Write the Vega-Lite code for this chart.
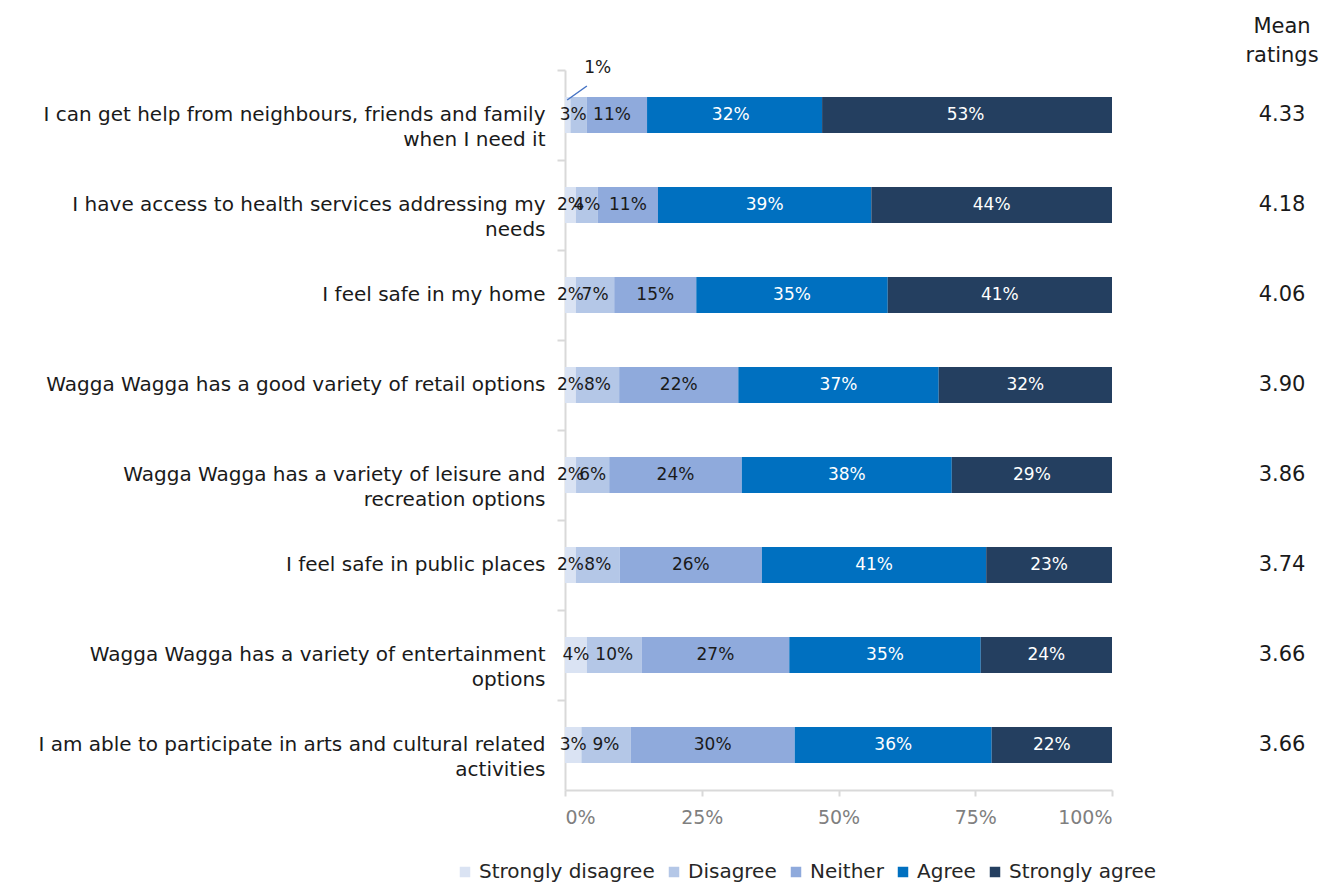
{
  "$schema": "https://vega.github.io/schema/vega-lite/v6.json",
  "padding": {"left": 5, "top": 16, "right": 5, "bottom": 5},
  "background": "white",
  "bounds": "flush",
  "spacing": 110,
  "config": {
    "font": "DejaVu Sans",
    "view": {"stroke": null},
    "text": {"font": "DejaVu Sans"}
  },
  "datasets": {
    "bars": [
      {"statement": "I can get help from neighbours, friends and family\nwhen I need it", "response": "Strongly disagree", "rank": 1, "pct": 0.01, "callout": true},
      {"statement": "I can get help from neighbours, friends and family\nwhen I need it", "response": "Disagree", "rank": 2, "pct": 0.03, "callout": false},
      {"statement": "I can get help from neighbours, friends and family\nwhen I need it", "response": "Neither", "rank": 3, "pct": 0.11, "callout": false},
      {"statement": "I can get help from neighbours, friends and family\nwhen I need it", "response": "Agree", "rank": 4, "pct": 0.32, "callout": false},
      {"statement": "I can get help from neighbours, friends and family\nwhen I need it", "response": "Strongly agree", "rank": 5, "pct": 0.53, "callout": false},
      {"statement": "I have access to health services addressing my\nneeds", "response": "Strongly disagree", "rank": 1, "pct": 0.02, "callout": false},
      {"statement": "I have access to health services addressing my\nneeds", "response": "Disagree", "rank": 2, "pct": 0.04, "callout": false},
      {"statement": "I have access to health services addressing my\nneeds", "response": "Neither", "rank": 3, "pct": 0.11, "callout": false},
      {"statement": "I have access to health services addressing my\nneeds", "response": "Agree", "rank": 4, "pct": 0.39, "callout": false},
      {"statement": "I have access to health services addressing my\nneeds", "response": "Strongly agree", "rank": 5, "pct": 0.44, "callout": false},
      {"statement": "I feel safe in my home", "response": "Strongly disagree", "rank": 1, "pct": 0.02, "callout": false},
      {"statement": "I feel safe in my home", "response": "Disagree", "rank": 2, "pct": 0.07, "callout": false},
      {"statement": "I feel safe in my home", "response": "Neither", "rank": 3, "pct": 0.15, "callout": false},
      {"statement": "I feel safe in my home", "response": "Agree", "rank": 4, "pct": 0.35, "callout": false},
      {"statement": "I feel safe in my home", "response": "Strongly agree", "rank": 5, "pct": 0.41, "callout": false},
      {"statement": "Wagga Wagga has a good variety of retail options", "response": "Strongly disagree", "rank": 1, "pct": 0.02, "callout": false},
      {"statement": "Wagga Wagga has a good variety of retail options", "response": "Disagree", "rank": 2, "pct": 0.08, "callout": false},
      {"statement": "Wagga Wagga has a good variety of retail options", "response": "Neither", "rank": 3, "pct": 0.22, "callout": false},
      {"statement": "Wagga Wagga has a good variety of retail options", "response": "Agree", "rank": 4, "pct": 0.37, "callout": false},
      {"statement": "Wagga Wagga has a good variety of retail options", "response": "Strongly agree", "rank": 5, "pct": 0.32, "callout": false},
      {"statement": "Wagga Wagga has a variety of leisure and\nrecreation options", "response": "Strongly disagree", "rank": 1, "pct": 0.02, "callout": false},
      {"statement": "Wagga Wagga has a variety of leisure and\nrecreation options", "response": "Disagree", "rank": 2, "pct": 0.06, "callout": false},
      {"statement": "Wagga Wagga has a variety of leisure and\nrecreation options", "response": "Neither", "rank": 3, "pct": 0.24, "callout": false},
      {"statement": "Wagga Wagga has a variety of leisure and\nrecreation options", "response": "Agree", "rank": 4, "pct": 0.38, "callout": false},
      {"statement": "Wagga Wagga has a variety of leisure and\nrecreation options", "response": "Strongly agree", "rank": 5, "pct": 0.29, "callout": false},
      {"statement": "I feel safe in public places", "response": "Strongly disagree", "rank": 1, "pct": 0.02, "callout": false},
      {"statement": "I feel safe in public places", "response": "Disagree", "rank": 2, "pct": 0.08, "callout": false},
      {"statement": "I feel safe in public places", "response": "Neither", "rank": 3, "pct": 0.26, "callout": false},
      {"statement": "I feel safe in public places", "response": "Agree", "rank": 4, "pct": 0.41, "callout": false},
      {"statement": "I feel safe in public places", "response": "Strongly agree", "rank": 5, "pct": 0.23, "callout": false},
      {"statement": "Wagga Wagga has a variety of entertainment\noptions", "response": "Strongly disagree", "rank": 1, "pct": 0.04, "callout": false},
      {"statement": "Wagga Wagga has a variety of entertainment\noptions", "response": "Disagree", "rank": 2, "pct": 0.10, "callout": false},
      {"statement": "Wagga Wagga has a variety of entertainment\noptions", "response": "Neither", "rank": 3, "pct": 0.27, "callout": false},
      {"statement": "Wagga Wagga has a variety of entertainment\noptions", "response": "Agree", "rank": 4, "pct": 0.35, "callout": false},
      {"statement": "Wagga Wagga has a variety of entertainment\noptions", "response": "Strongly agree", "rank": 5, "pct": 0.24, "callout": false},
      {"statement": "I am able to participate in arts and cultural related\nactivities", "response": "Strongly disagree", "rank": 1, "pct": 0.03, "callout": false},
      {"statement": "I am able to participate in arts and cultural related\nactivities", "response": "Disagree", "rank": 2, "pct": 0.09, "callout": false},
      {"statement": "I am able to participate in arts and cultural related\nactivities", "response": "Neither", "rank": 3, "pct": 0.30, "callout": false},
      {"statement": "I am able to participate in arts and cultural related\nactivities", "response": "Agree", "rank": 4, "pct": 0.36, "callout": false},
      {"statement": "I am able to participate in arts and cultural related\nactivities", "response": "Strongly agree", "rank": 5, "pct": 0.22, "callout": false}
    ],
    "means": [
      {"statement": "I can get help from neighbours, friends and family\nwhen I need it", "mean": 4.33},
      {"statement": "I have access to health services addressing my\nneeds", "mean": 4.18},
      {"statement": "I feel safe in my home", "mean": 4.06},
      {"statement": "Wagga Wagga has a good variety of retail options", "mean": 3.90},
      {"statement": "Wagga Wagga has a variety of leisure and\nrecreation options", "mean": 3.86},
      {"statement": "I feel safe in public places", "mean": 3.74},
      {"statement": "Wagga Wagga has a variety of entertainment\noptions", "mean": 3.66},
      {"statement": "I am able to participate in arts and cultural related\nactivities", "mean": 3.66}
    ]
  },
  "hconcat": [
    {
      "width": 547,
      "height": 720,
      "data": {"name": "bars"},
      "resolve": {"axis": {"y": "independent"}},
      "layer": [
        {
          "mark": {"type": "bar"},
          "encoding": {
            "y": {
              "field": "statement", "type": "nominal",
              "sort": null,
              "scale": {"paddingInner": 0.6, "paddingOuter": 0.3},
              "axis": {
                "title": null, "domain": false, "ticks": false,
                "labelPadding": 20, "labelLimit": 700,
                "labelFontSize": 20, "labelColor": "#1a1a1a",
                "labelLineHeight": 25,
                "labelExpr": "split(datum.label, '\\n')",
                "minExtent": 560, "maxExtent": 560
              }
            },
            "x": {
              "field": "pct", "type": "quantitative", "stack": "normalize",
              "scale": {"domain": [0, 1]},
              "axis": {
                "title": null, "values": [0, 0.25, 0.5, 0.75, 1], "format": ".0%",
                "grid": false, "domainColor": "#d9d9d9", "tickColor": "#d9d9d9", "domainWidth": 2, "tickWidth": 2,
                "tickSize": 6, "labelPadding": 12, "labelFontSize": 19, "labelColor": "#7f7f7f"
              }
            },
            "color": {
              "field": "response", "type": "nominal",
              "scale": {
                "domain": ["Strongly disagree", "Disagree", "Neither", "Agree", "Strongly agree"],
                "range": ["#dae3f3", "#b4c7e7", "#8faadc", "#0070c0", "#243f60"]
              },
              "legend": {
                "title": null, "orient": "none", "legendX": -110, "legendY": 792, "direction": "horizontal",
                "symbolType": "square", "symbolSize": 110, "symbolStrokeWidth": 0,
                "labelFontSize": 20, "labelColor": "#262626", "labelOffset": 4,
                "columnPadding": 9, "labelLimit": 300
              }
            },
            "order": {"field": "rank", "type": "quantitative"}
          }
        },
        {
          "transform": [{"filter": "datum.callout == false"}],
          "mark": {"type": "text", "fontSize": 17, "baseline": "middle", "align": "center"},
          "encoding": {
            "y": {"field": "statement", "type": "nominal", "sort": null, "axis": null},
            "x": {"field": "pct", "type": "quantitative", "stack": "normalize", "bandPosition": 0.5},
            "order": {"field": "rank", "type": "quantitative"},
            "text": {"field": "pct", "type": "quantitative", "format": ".0%"},
            "color": {
              "condition": {"test": "datum.response == 'Agree' || datum.response == 'Strongly agree'", "value": "white"},
              "value": "#1a1a1a"
            }
          }
        },
        {
          "transform": [{"filter": "datum.callout == true"}],
          "mark": {"type": "text", "fontSize": 17, "baseline": "middle", "align": "center", "dx": 30, "dy": -47, "color": "#1a1a1a"},
          "encoding": {
            "y": {"field": "statement", "type": "nominal", "sort": null, "axis": null},
            "x": {"datum": 0.005, "type": "quantitative"},
            "text": {"field": "pct", "type": "quantitative", "format": ".0%"}
          }
        },
        {
          "transform": [{"filter": "datum.callout == true"}],
          "mark": {"type": "rule", "color": "#4472c4", "strokeWidth": 1.5, "yOffset": -15, "y2Offset": -29},
          "encoding": {
            "y": {
              "field": "statement", "type": "nominal", "sort": null,
              "axis": {
                "orient": "left", "title": null, "labels": false, "domain": true, "ticks": true,
                "tickSize": 8, "tickOffset": -45, "domainColor": "#d9d9d9", "tickColor": "#d9d9d9",
                "domainWidth": 2, "tickWidth": 2, "minExtent": 0, "maxExtent": 0
              }
            },
            "y2": {"field": "statement"},
            "x": {"datum": 0.004, "type": "quantitative"},
            "x2": {"datum": 0.04}
          }
        }
      ]
    },
    {
      "width": 120,
      "height": 720,
      "data": {"name": "means"},
      "title": {"text": ["Mean", "ratings"], "anchor": "middle", "fontSize": 21, "fontWeight": "normal", "lineHeight": 29, "offset": 4, "color": "#1a1a1a"},
      "mark": {"type": "text", "fontSize": 21, "color": "#1a1a1a"},
      "encoding": {
        "y": {"field": "statement", "type": "nominal", "sort": null, "axis": null, "scale": {"paddingInner": 0.6, "paddingOuter": 0.3}},
        "text": {"field": "mean", "type": "quantitative", "format": ".2f"}
      }
    }
  ]
}
